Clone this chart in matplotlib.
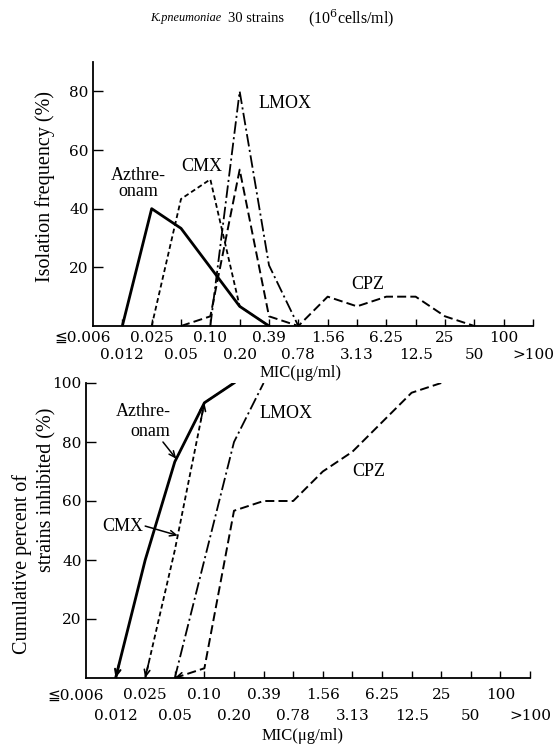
import matplotlib
matplotlib.use("Agg")
import matplotlib.pyplot as plt
import matplotlib.transforms as mtransforms
import numpy as np

plt.rcParams['lines.scale_dashes'] = False
plt.rcParams['mathtext.fontset'] = 'dejavuserif'

# ---------------- data ----------------
categories = ['≦0.006', '0.012', '0.025', '0.05', '0.10', '0.20', '0.39', '0.78',
              '1.56', '3.13', '6.25', '12.5', '25', '50', '100', '>100']

# Isolation frequency (%)
azt_freq_cats = ['0.012', '0.025', '0.05', '0.10', '0.20', '0.39']
azt_freq = [0, 40, 33.3, 20, 6.7, 0]
cmx_freq_cats = ['0.025', '0.05', '0.10', '0.20', '0.39']
cmx_freq = [0, 43.3, 50, 6.7, 0]
lmox_freq_cats = ['0.10', '0.20', '0.39', '0.78']
lmox_freq = [0, 80, 20.7, 0]
cpz_freq_cats = ['0.05', '0.10', '0.20', '0.39', '0.78', '1.56', '3.13', '6.25', '12.5', '25', '50']
cpz_freq = [0, 3.3, 53.3, 3.3, 0, 10, 6.7, 10, 10, 3.3, 0]

# Cumulative percent of strains inhibited (%)
azt_cum_cats = ['0.012', '0.025', '0.05', '0.10', '0.20']
azt_cum = [0, 40, 73.3, 93.3, 100]
cmx_cum_cats = ['0.025', '0.05', '0.10', '0.20']
cmx_cum = [0, 43.3, 93.3, 100]
lmox_cum_cats = ['0.05', '0.20', '0.39']
lmox_cum = [0, 80, 100]
cpz_cum_cats = ['0.05', '0.10', '0.20', '0.39', '0.78', '1.56', '3.13', '6.25', '12.5', '25']
cpz_cum = [0, 3.3, 56.7, 60, 60, 70, 76.7, 86.7, 96.7, 100]

freq_yticks = [20, 40, 60, 80]
cum_yticks = [20, 40, 60, 80, 100]

# ---------------- styles ----------------
STY = {
    'azt': dict(color='black', lw=2.0, ls='-'),
    'cmx': dict(color='black', lw=1.3, dashes=(3.5, 2.2)),
    'lmox': dict(color='black', lw=1.3, dashes=(9, 2.5, 1.5, 2.5)),
    'cpz': dict(color='black', lw=1.4, dashes=(6.5, 3.0)),
}
SERIF = ['Liberation Serif', 'DejaVu Serif']
TICKF = ['DejaVu Serif', 'DejaVu Sans']

W, H = 559, 745
fig = plt.figure(figsize=(W / 100, H / 100), dpi=100)


def px_axes(l, r, b, t):
    return fig.add_axes([l / W, 1 - b / H, (r - l) / W, (b - t) / H])


def idx(cats):
    return [categories.index(c) for c in cats]


def style_axes(ax, yticks, ylim, pad_up, pad_low):
    ax.set_xlim(0, 15)
    ax.set_ylim(*ylim)
    for s in ['top', 'right']:
        ax.spines[s].set_visible(False)
    for s in ['left', 'bottom']:
        ax.spines[s].set_linewidth(1.3)
    pos = list(range(len(categories)))
    ax.set_xticks(pos[0::2], labels=categories[0::2])
    ax.set_xticks(pos[1::2], labels=categories[1::2], minor=True)
    for lbl in ax.get_xticklabels(which='both'):
        lbl.set_fontsize(11)
        lbl.set_family(TICKF)
    ax.tick_params(axis='x', which='major', direction='in', length=5, width=1.0, pad=pad_up)
    ax.tick_params(axis='x', which='minor', direction='in', length=5, width=1.0, pad=pad_low)
    lbl0 = ax.get_xticklabels()[0]
    lbl0.set_transform(lbl0.get_transform() +
                       mtransforms.ScaledTranslation(-10 / 100, 0, fig.dpi_scale_trans))
    ax.xaxis.get_major_ticks()[0].tick1line.set_visible(False)
    ax.set_yticks(yticks)
    ax.set_yticklabels([str(v) for v in yticks], fontsize=11, family=TICKF)
    ax.tick_params(axis='y', direction='in', length=7, width=1.0, pad=3)


# ---------------- top chart ----------------
ax1 = px_axes(93, 533, 326, 62)
ax1.plot(idx(azt_freq_cats), azt_freq, **STY['azt'])
ax1.plot(idx(cmx_freq_cats), cmx_freq, **STY['cmx'])
ax1.plot(idx(lmox_freq_cats), lmox_freq, **STY['lmox'])
ax1.plot(idx(cpz_freq_cats), cpz_freq, **STY['cpz'])
style_axes(ax1, freq_yticks, (0, 90), 3.5, 16)

ax1.text(1.53, 48.5, 'Azthre-\nonam', fontsize=13, family=SERIF, ha='center', va='center',
         linespacing=0.95)
ax1.text(3.72, 54.5, 'CMX', fontsize=13, family=SERIF, ha='center', va='center')
ax1.text(6.55, 76, 'LMOX', fontsize=13, family=SERIF, ha='center', va='center')
ax1.text(9.35, 14.3, 'CPZ', fontsize=13, family=SERIF, ha='center', va='center')

# ---------------- bottom chart ----------------
ax2 = px_axes(86, 530, 678, 383)
ax2.plot(idx(azt_cum_cats), azt_cum, **STY['azt'])
ax2.plot(idx(cmx_cum_cats), cmx_cum, **STY['cmx'])
ax2.plot(idx(lmox_cum_cats), lmox_cum, **STY['lmox'])
ax2.plot(idx(cpz_cum_cats), cpz_cum, **STY['cpz'])
style_axes(ax2, cum_yticks, (0, 100), 7.5, 22.5)


def end_arrow(ax, xs, ys, which, lw=1.2):
    xs = list(xs); ys = list(ys)
    if which == 'start':
        x0, y0, x1, y1 = xs[0], ys[0], xs[1], ys[1]
    else:
        x0, y0, x1, y1 = xs[-1], ys[-1], xs[-2], ys[-2]
    f = 0.12
    ax.annotate('', xy=(x0, y0), xytext=(x0 + f * (x1 - x0), y0 + f * (y1 - y0)),
                arrowprops=dict(arrowstyle='->,head_length=0.45,head_width=0.2',
                                lw=lw, color='black', shrinkA=0, shrinkB=0))


end_arrow(ax2, idx(azt_cum_cats), azt_cum, 'start', lw=1.5)
end_arrow(ax2, idx(cmx_cum_cats), cmx_cum, 'start')
end_arrow(ax2, idx(cpz_cum_cats), cpz_cum, 'start')
end_arrow(ax2, idx(cmx_cum_cats)[:3], cmx_cum[:3], 'end')

ax2.text(1.93, 90.5, 'Azthre-', fontsize=13, family=SERIF, ha='center', va='center')
ax2.text(2.16, 83.7, 'onam', fontsize=13, family=SERIF, ha='center', va='center')
ax2.annotate('', xy=(3.05, 74.3), xytext=(2.6, 80.0),
             arrowprops=dict(arrowstyle='->,head_length=0.45,head_width=0.2',
                             lw=1.1, color='black', shrinkA=0, shrinkB=0))
ax2.text(1.25, 51.5, 'CMX', fontsize=13, family=SERIF, ha='center', va='center')
ax2.annotate('', xy=(3.1, 48.3), xytext=(2.0, 51.5),
             arrowprops=dict(arrowstyle='->,head_length=0.45,head_width=0.2',
                             lw=1.1, color='black', shrinkA=0, shrinkB=0))
ax2.text(6.77, 89.5, 'LMOX', fontsize=13, family=SERIF, ha='center', va='center')
ax2.text(9.55, 70, 'CPZ', fontsize=13, family=SERIF, ha='center', va='center')

# ---------------- labels ----------------
fig.text(45 / W, 1 - 186 / H, 'Isolation frequency (%)', rotation=90, fontsize=14.5,
         family=SERIF, ha='center', va='center')
fig.text(22 / W, 1 - 564 / H, 'Cumulative percent of', rotation=90, fontsize=14.5,
         family=SERIF, ha='center', va='center')
fig.text(47 / W, 1 - 490 / H, 'strains inhibited (%)', rotation=90, fontsize=14.5,
         family=SERIF, ha='center', va='center')
fig.text(301 / W, 1 - 373 / H, 'MIC(μg/ml)', fontsize=12, family=SERIF,
         ha='center', va='center')
fig.text(303 / W, 1 - 736 / H, 'MIC(μg/ml)', fontsize=12, family=SERIF,
         ha='center', va='center')

# title
fig.text(150 / W, 1 - 18 / H, 'K.pneumoniae', fontsize=8.8, family=SERIF, style='italic',
         ha='left', va='center')
fig.text(228 / W, 1 - 18 / H, '30 strains', fontsize=10.5, family=SERIF,
         ha='left', va='center')
fig.text(308 / W, 1 - 18 / H, r'(10$^{6}$cells/ml)', fontsize=11.5, family=SERIF,
         ha='left', va='center')

fig.savefig('out.png', dpi=100)
